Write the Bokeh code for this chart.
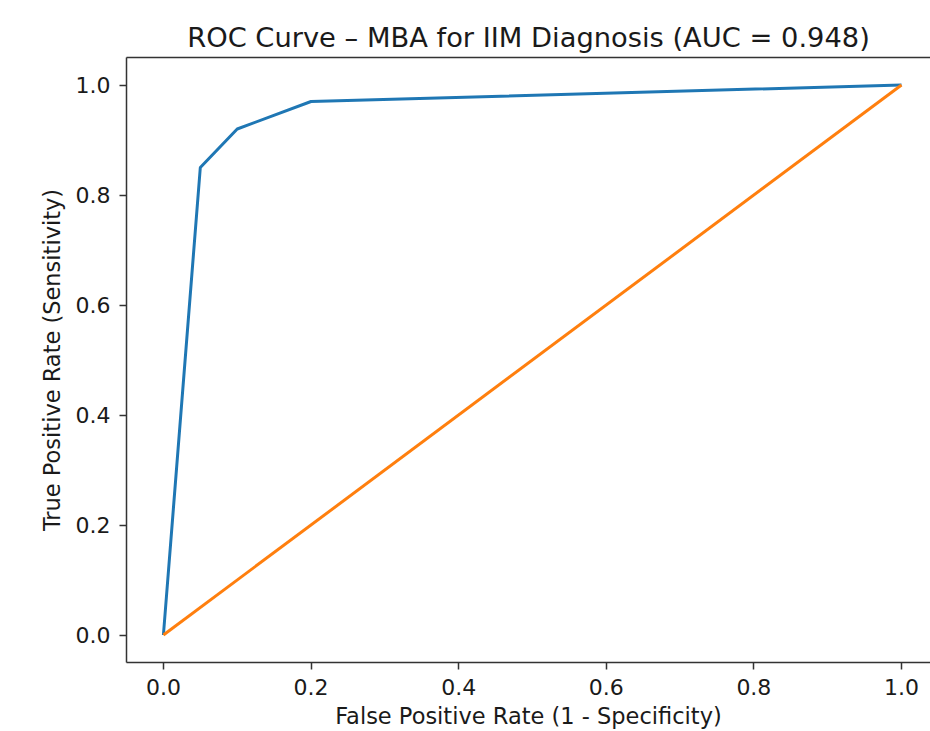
from bokeh.plotting import figure
from bokeh.models import Range1d, FixedTicker, LinearAxis, PrintfTickFormatter
from bokeh.embed import file_html
from bokeh.resources import INLINE

fpr = [0.0, 0.05, 0.1, 0.2, 1.0]
tpr = [0.0, 0.85, 0.92, 0.97, 1.0]
diag_x = [0.0, 1.0]
diag_y = [0.0, 1.0]
ticks = [0.0, 0.2, 0.4, 0.6, 0.8, 1.0]

FONT = "DejaVu Sans"

p = figure(width=930, height=731, output_backend="svg", toolbar_location=None,
           x_range=Range1d(-0.05, 1.0393), y_range=Range1d(-0.05, 1.05),
           min_border_left=126, min_border_right=0, min_border_top=57, min_border_bottom=68,
           title="ROC Curve \u2013 MBA for IIM Diagnosis (AUC = 0.948)")
p.title.align = "center"
p.title.text_font = FONT
p.title.text_font_size = "27.3px"
p.title.text_font_style = "normal"
p.title.text_color = "#1a1a1a"
p.title.standoff = 10

p.outline_line_color = None
p.grid.visible = False
p.background_fill_color = "white"
p.border_fill_color = "white"

p.line(fpr, tpr, line_color="#1f77b4", line_width=3)
p.line(diag_x, diag_y, line_color="#ff7f0e", line_width=3)

for ax in (p.xaxis[0], p.yaxis[0]):
    ax.ticker = FixedTicker(ticks=ticks)
    ax.formatter = PrintfTickFormatter(format="%.1f")
    ax.minor_tick_line_color = None
    ax.major_tick_in = 0
    ax.major_tick_out = 7
    ax.major_tick_line_width = 1.5
    ax.axis_line_width = 1.5
    ax.axis_line_color = "#333333"
    ax.major_tick_line_color = "#333333"
    ax.major_label_text_font = FONT
    ax.major_label_text_font_size = "22px"
    ax.major_label_text_color = "#1a1a1a"
    ax.axis_label_text_font = FONT
    ax.axis_label_text_font_size = "22.5px"
    ax.axis_label_text_font_style = "normal"
    ax.axis_label_text_color = "#1a1a1a"

p.xaxis.axis_label = "False Positive Rate (1 - Specificity)"
p.yaxis.axis_label = "True Positive Rate (Sensitivity)"
p.xaxis.major_label_standoff = 9
p.yaxis.major_label_standoff = 9
p.xaxis.axis_label_standoff = 5
p.yaxis.axis_label_standoff = 8

top = LinearAxis(major_tick_line_color=None, minor_tick_line_color=None,
                 major_label_text_font_size="0px", axis_line_width=1.5,
                 axis_line_color="#333333")
top.ticker = FixedTicker(ticks=[])
p.add_layout(top, "above")

open("out.html", "w").write(file_html(p, INLINE))
